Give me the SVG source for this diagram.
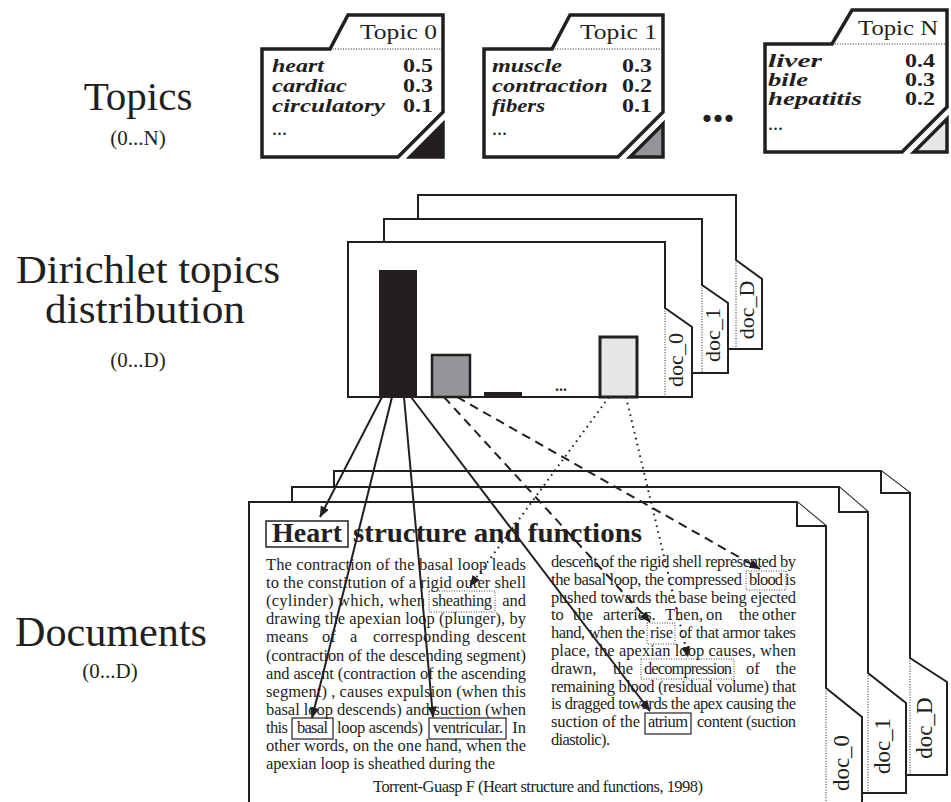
<svg xmlns="http://www.w3.org/2000/svg" width="951" height="802" viewBox="0 0 951 802">
<defs>
<style>
text{font-family:"Liberation Serif","DejaVu Serif",serif;fill:#231f20}
.lbl{font-size:42px;text-anchor:middle}
.sub{font-size:21px;text-anchor:middle}
.card{fill:#fff;stroke:#231f20;stroke-width:3.5;stroke-linejoin:miter}
.sep{fill:none;stroke:#231f20;stroke-width:1;stroke-dasharray:1 1.6}
.tri{stroke:#231f20;stroke-width:3.5;stroke-linejoin:miter}
.ttl{font-size:22px;text-anchor:end}
.w{font-size:19px;font-style:italic;font-weight:bold}
.n{font-size:19px;font-weight:bold;text-anchor:end}
.dots{font-size:20px}
.dc{fill:#fff;stroke:#231f20;stroke-width:2;stroke-linejoin:miter}
.dt{fill:none;stroke:#231f20;stroke-width:1;stroke-dasharray:1 1.6}
.tab{font-size:22px;text-anchor:middle}
.bt{font-size:16.5px}
.e{text-anchor:end}
.bx{fill:none;stroke:#231f20;stroke-width:1.2}
.bxd{fill:none;stroke:#444;stroke-width:1;stroke-dasharray:1 1.5}
.c{fill:none;stroke:#231f20;stroke-width:2;marker-end:url(#ah)}
.da{stroke-dasharray:9 6}
.do{stroke-dasharray:1.6 4.4}
</style>
<marker id="ah" viewBox="0 0 11 9" refX="10.5" refY="4.5" markerWidth="11" markerHeight="9" markerUnits="userSpaceOnUse" orient="auto">
<path d="M0,0 L11,4.5 L0,9 Z" fill="#231f20"/>
</marker>
</defs>
<rect width="951" height="802" fill="#fff"/>

<g id="labels">
<text class="lbl" x="138" y="110" style="font-size:41px">Topics</text>
<text class="sub" x="138" y="145">(0...N)</text>
<text class="lbl" x="148" y="283" style="font-size:39px" textLength="264" lengthAdjust="spacingAndGlyphs">Dirichlet topics</text>
<text class="lbl" x="145" y="323" style="font-size:39px" textLength="200" lengthAdjust="spacingAndGlyphs">distribution</text>
<text class="sub" x="138" y="367">(0...D)</text>
<text class="lbl" x="111" y="646" textLength="192" lengthAdjust="spacingAndGlyphs">Documents</text>
<text class="sub" x="110" y="678">(0...D)</text>
</g>

<g id="topic0" transform="translate(262,15)">
<path class="card" d="M0,34 H68 L86,0 H181 V97 L136,142 H0 Z"/>
<path class="sep" d="M68,34 H181"/>
<path class="tri" d="M181,109 V142 H148 Z" fill="#231f20"/>
<text class="ttl" x="175" y="24" textLength="77" lengthAdjust="spacingAndGlyphs">Topic 0</text>
<text class="w" x="10" y="57" textLength="52" lengthAdjust="spacingAndGlyphs">heart</text>
<text class="w" x="10" y="77" textLength="75" lengthAdjust="spacingAndGlyphs">cardiac</text>
<text class="w" x="10" y="97" textLength="113" lengthAdjust="spacingAndGlyphs">circulatory</text>
<text class="n" x="171" y="57" textLength="30" lengthAdjust="spacingAndGlyphs">0.5</text>
<text class="n" x="171" y="77" textLength="30" lengthAdjust="spacingAndGlyphs">0.3</text>
<text class="n" x="171" y="97" textLength="30" lengthAdjust="spacingAndGlyphs">0.1</text>
<text class="dots" x="10" y="120">...</text>
</g>

<g id="topic1" transform="translate(484,15)">
<path class="card" d="M0,34 H68 L86,0 H179 V97 L134,142 H0 Z"/>
<path class="sep" d="M68,34 H179"/>
<path class="tri" d="M179,109 V142 H146 Z" fill="#939598"/>
<text class="ttl" x="173" y="24" textLength="77" lengthAdjust="spacingAndGlyphs">Topic 1</text>
<text class="w" x="8" y="57" textLength="70" lengthAdjust="spacingAndGlyphs">muscle</text>
<text class="w" x="8" y="77" textLength="116" lengthAdjust="spacingAndGlyphs">contraction</text>
<text class="w" x="8" y="97" textLength="53" lengthAdjust="spacingAndGlyphs">fibers</text>
<text class="n" x="168" y="57" textLength="30" lengthAdjust="spacingAndGlyphs">0.3</text>
<text class="n" x="168" y="77" textLength="30" lengthAdjust="spacingAndGlyphs">0.2</text>
<text class="n" x="168" y="97" textLength="30" lengthAdjust="spacingAndGlyphs">0.1</text>
<text class="dots" x="8" y="120">...</text>
</g>

<text x="718" y="122" text-anchor="middle" style="font-size:44px;font-weight:bold">...</text>

<g id="topicN" transform="translate(765,10)">
<path class="card" d="M0,34 H67 L87,0 H182 V97 L137,142 H0 Z"/>
<path class="sep" d="M67,34 H182"/>
<path class="tri" d="M182,109 V142 H149 Z" fill="#e6e7e8"/>
<text class="ttl" x="173" y="25" textLength="80" lengthAdjust="spacingAndGlyphs">Topic N</text>
<text class="w" x="3" y="57" textLength="54" lengthAdjust="spacingAndGlyphs">liver</text>
<text class="w" x="3" y="76" textLength="40" lengthAdjust="spacingAndGlyphs">bile</text>
<text class="w" x="3" y="95" textLength="94" lengthAdjust="spacingAndGlyphs">hepatitis</text>
<text class="n" x="170" y="57" textLength="30" lengthAdjust="spacingAndGlyphs">0.4</text>
<text class="n" x="170" y="76" textLength="30" lengthAdjust="spacingAndGlyphs">0.3</text>
<text class="n" x="170" y="95" textLength="30" lengthAdjust="spacingAndGlyphs">0.2</text>
<text class="dots" x="3" y="120">...</text>
</g>

<g id="dirD">
<path class="dc" d="M418,300 V195 H736 V260 L762,279 V349 H418 Z"/>
<path class="dt" d="M736,260 V349"/>
<text class="tab" transform="translate(754,310) rotate(-90)">doc_D</text>
</g>
<g id="dir1">
<path class="dc" d="M384,300 V219 H702 V285 L728,303 V373 H384 Z"/>
<path class="dt" d="M702,285 V373"/>
<text class="tab" transform="translate(720,335) rotate(-90)">doc_1</text>
</g>
<g id="dir0">
<path class="dc" d="M348,242 H665 V308 L692,327 V397 H348 Z"/>
<path class="dt" d="M665,308 V397"/>
<text class="tab" transform="translate(683,360) rotate(-90)">doc_0</text>
<rect x="379" y="270" width="38" height="127" fill="#231f20"/>
<rect x="432" y="355" width="38" height="42" fill="#939598" stroke="#231f20" stroke-width="2.5"/>
<rect x="484" y="392" width="38" height="5" fill="#231f20"/>
<text x="561" y="391" text-anchor="middle" style="font-size:16px;font-weight:bold">...</text>
<rect x="600" y="337" width="37" height="60" fill="#e6e7e8" stroke="#231f20" stroke-width="3"/>
</g>

<g id="docD">
<path class="dc" d="M334,600 V471 H881 L910,493 V658 L947,682 V775 H334 Z"/>
<path class="dc" d="M881,471 V493 H910" fill="none"/>
<path class="dt" d="M910,658 V775"/>
<text class="tab" style="font-size:23px" transform="translate(932,728) rotate(-90)">doc_D</text>
</g>
<g id="doc1">
<path class="dc" d="M292,600 V487 H839 L868,512 V673 L906,703 V793 H292 Z"/>
<path class="dc" d="M839,487 V512 H868" fill="none"/>
<path class="dt" d="M868,673 V793"/>
<text class="tab" style="font-size:23px" transform="translate(890,746) rotate(-90)">doc_1</text>
</g>
<g id="doc0">
<path class="dc" d="M249,810 V502 H797 L826,526 V688 L862,717 V810 Z"/>
<path class="dc" d="M797,502 V526 H826" fill="none"/>
<path class="dt" d="M826,688 V802"/>
<text class="tab" style="font-size:23px" transform="translate(849,763) rotate(-90)">doc_0</text>

<rect class="bx" x="266" y="521" width="82" height="26" style="stroke-width:1.5"/>
<text x="272" y="542" style="font-size:28px;font-weight:bold" textLength="70" lengthAdjust="spacingAndGlyphs">Heart</text>
<text x="353" y="542" style="font-size:28px;font-weight:bold" textLength="289" lengthAdjust="spacingAndGlyphs">structure and functions</text>

<text class="bt" x="266" y="570" textLength="260">The contraction of the basal loop leads</text>
<text class="bt" x="266" y="588.1" textLength="260">to the constitution of a rigid outer shell</text>
<text class="bt" x="266" y="606.2" textLength="159">(cylinder) which, when</text>
<rect class="bxd" x="429" y="591" width="66" height="21"/>
<text class="bt" x="432" y="606.2" textLength="60">sheathing</text>
<text class="bt e" x="526" y="606.2">and</text>
<text class="bt" x="266" y="624.3" textLength="260">drawing the apexian loop (plunger), by</text>
<text class="bt" x="266" y="642.4">means</text>
<text class="bt" x="322" y="642.4">of</text>
<text class="bt" x="350" y="642.4">a</text>
<text class="bt" x="373" y="642.4" textLength="97">corresponding</text>
<text class="bt e" x="526" y="642.4">descent</text>
<text class="bt" x="266" y="660.5" textLength="260">(contraction of the descending segment)</text>
<text class="bt" x="266" y="678.6" textLength="260">and ascent (contraction of the ascending</text>
<text class="bt" x="266" y="696.7" textLength="260">segment) , causes expulsion (when this</text>
<text class="bt" x="266" y="714.8" textLength="260">basal loop descends) and suction (when</text>
<text class="bt" x="266" y="732.9" textLength="22">this</text>
<rect class="bx" x="292" y="718" width="41" height="21"/>
<text class="bt" x="297" y="732.9" textLength="31">basal</text>
<text class="bt" x="337" y="732.9" textLength="86">loop ascends)</text>
<rect class="bx" x="429" y="718" width="77" height="21"/>
<text class="bt" x="433" y="732.9" textLength="70">ventricular.</text>
<text class="bt e" x="526" y="732.9">In</text>
<text class="bt" x="266" y="751" textLength="260">other words, on the one hand, when the</text>
<text class="bt" x="266" y="769.1" textLength="229">apexian loop is sheathed during the</text>

<text class="bt" x="551" y="567" textLength="245">descent of the rigid shell represented by</text>
<text class="bt" x="551" y="584.8" textLength="191">the basal loop, the compressed</text>
<rect class="bxd" x="746" y="571" width="40" height="19"/>
<text class="bt" x="749" y="584.8" textLength="34">blood</text>
<text class="bt e" x="796" y="584.8">is</text>
<text class="bt" x="551" y="602.6" textLength="245">pushed towards the base being ejected</text>
<text class="bt" x="551" y="620.4">to</text>
<text class="bt" x="573" y="620.4">the</text>
<text class="bt" x="603" y="620.4">arteries.</text>
<text class="bt" x="665" y="620.4">Then,</text>
<text class="bt" x="706" y="620.4">on</text>
<text class="bt" x="739" y="620.4">the</text>
<text class="bt e" x="796" y="620.4">other</text>
<text class="bt" x="551" y="638.2" textLength="94">hand, when the</text>
<rect class="bxd" x="647" y="623" width="28" height="21"/>
<text class="bt" x="650" y="638.2" textLength="23">rise</text>
<text class="bt" x="679" y="638.2" textLength="117">of that armor takes</text>
<text class="bt" x="551" y="656" textLength="245">place, the apexian loop causes, when</text>
<text class="bt" x="551" y="673.8">drawn,</text>
<text class="bt" x="613" y="673.8">the</text>
<rect class="bxd" x="641" y="659" width="93" height="20"/>
<text class="bt" x="644" y="673.8" textLength="88">decompression</text>
<text class="bt" x="746" y="673.8">of</text>
<text class="bt e" x="796" y="673.8">the</text>
<text class="bt" x="551" y="691.6" textLength="245">remaining blood (residual volume) that</text>
<text class="bt" x="551" y="709.4" textLength="245">is dragged towards the apex causing the</text>
<text class="bt" x="551" y="727.2" textLength="89">suction of the</text>
<rect class="bx" x="645" y="713" width="46" height="21"/>
<text class="bt" x="648" y="727.2" textLength="40">atrium</text>
<text class="bt" x="697" y="727.2" textLength="99">content (suction</text>
<text class="bt" x="551" y="745" textLength="59">diastolic).</text>

<text class="bt" x="373" y="792" textLength="330">Torrent-Guasp F (Heart structure and functions, 1998)</text>
</g>

<g id="connectors">
<path class="c" d="M382,397 L320,517"/>
<path class="c" d="M392,397 L312,718"/>
<path class="c" d="M404,397 L433,717"/>
<path class="c" d="M411,397 L650,711"/>
<path class="c da" d="M444,397 L650,622"/>
<path class="c da" d="M457,397 L760,569"/>
<path class="c do" d="M609,397 L470,586"/>
<path class="c do" d="M626,397 L688,657"/>
</g>
</svg>
